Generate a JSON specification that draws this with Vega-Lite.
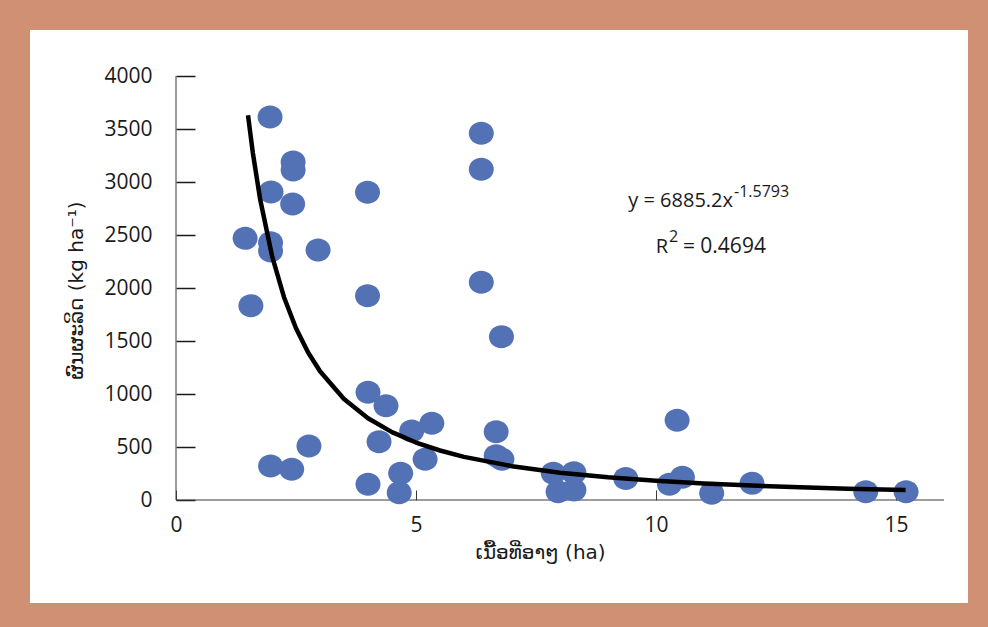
{
  "$schema": "https://vega.github.io/schema/vega-lite/v6.json",
  "width": 938,
  "height": 573,
  "autosize": {"type": "none"},
  "padding": {"left": 30, "top": 30, "right": 20, "bottom": 24},
  "background": "#CF9073",
  "config": {
    "view": {"fill": "#FFFFFF", "stroke": null},
    "font": "Open Sans"
  },
  "datasets": {
    "pts": [
      {"x": 1.96, "y": 3613}, {"x": 2.44, "y": 3189}, {"x": 2.44, "y": 3113},
      {"x": 1.98, "y": 2906}, {"x": 2.43, "y": 2792}, {"x": 1.44, "y": 2469},
      {"x": 1.97, "y": 2427}, {"x": 1.97, "y": 2349}, {"x": 2.96, "y": 2358},
      {"x": 3.99, "y": 2903}, {"x": 1.56, "y": 1833}, {"x": 3.99, "y": 1927},
      {"x": 6.36, "y": 3459}, {"x": 6.36, "y": 3120}, {"x": 6.36, "y": 2054},
      {"x": 6.78, "y": 1541}, {"x": 4.0, "y": 1016}, {"x": 4.375, "y": 890},
      {"x": 5.33, "y": 723}, {"x": 4.91, "y": 651}, {"x": 4.23, "y": 550},
      {"x": 6.67, "y": 645}, {"x": 6.67, "y": 418}, {"x": 6.79, "y": 384},
      {"x": 5.19, "y": 384}, {"x": 4.68, "y": 252}, {"x": 4.0, "y": 148},
      {"x": 4.65, "y": 69}, {"x": 1.97, "y": 321}, {"x": 2.41, "y": 290},
      {"x": 2.77, "y": 509}, {"x": 10.44, "y": 752}, {"x": 7.86, "y": 252},
      {"x": 8.29, "y": 258}, {"x": 7.96, "y": 79}, {"x": 8.29, "y": 94},
      {"x": 9.37, "y": 204}, {"x": 10.28, "y": 148}, {"x": 10.55, "y": 214},
      {"x": 11.16, "y": 63}, {"x": 12.0, "y": 157}, {"x": 14.37, "y": 79},
      {"x": 15.21, "y": 79}
    ],
    "trend": [
      {"x": 1.5, "y": 3629}, {"x": 1.6, "y": 3278}, {"x": 1.75, "y": 2845},
      {"x": 2.0, "y": 2304}, {"x": 2.25, "y": 1913}, {"x": 2.5, "y": 1620},
      {"x": 2.75, "y": 1394}, {"x": 3.0, "y": 1214}, {"x": 3.5, "y": 952},
      {"x": 4.0, "y": 771}, {"x": 4.5, "y": 640}, {"x": 5.0, "y": 542},
      {"x": 5.5, "y": 467}, {"x": 6.0, "y": 407}, {"x": 7.0, "y": 319},
      {"x": 8.0, "y": 258}, {"x": 9.0, "y": 214}, {"x": 10.0, "y": 181},
      {"x": 11.0, "y": 156}, {"x": 12.0, "y": 136}, {"x": 13.0, "y": 120},
      {"x": 14.0, "y": 107}, {"x": 15.2, "y": 94}
    ],
    "axislines": [
      {"x": 0, "x2": 16, "y": 0, "y2": 0},
      {"x": 0, "x2": 0, "y": 0, "y2": 4000}
    ],
    "eq": [
      {"x": 11.604, "y": 2764, "t": "y = 6885.2x", "part": "main"},
      {"x": 10.25, "y": 2330, "t": "R", "part": "main"},
      {"x": 11.625, "y": 2856, "t": "-1.5793", "part": "sup"},
      {"x": 10.27, "y": 2430, "t": "2", "part": "sup"},
      {"x": 10.56, "y": 2330, "t": "= 0.4694", "part": "rest"}
    ]
  },
  "encoding": {
    "x": {
      "field": "x", "type": "quantitative",
      "scale": {"domain": [-3.0417, 16.5], "nice": false, "zero": false},
      "axis": {
        "orient": "bottom", "offset": -103, "values": [0, 5, 10, 15], "format": "d", "domain": false, "grid": false,
        "tickSize": -10, "tickColor": "#3a3a3a", "labelPadding": 24,
        "labelFont": "Open Sans", "labelFontSize": 21, "labelColor": "#1a1a1a",
        "title": "ເນື້ອທີ່ອາໆ (ha)", "titleFont": "DejaVu Sans", "titleFontSize": 20, "titleFontWeight": "normal",
        "titleColor": "#1a1a1a", "titleX": 510, "titleY": 52, "titleAlign": "center", "titleBaseline": "middle"
      }
    },
    "y": {
      "field": "y", "type": "quantitative",
      "scale": {"domain": [-971.7, 4434], "nice": false, "zero": false},
      "axis": {
        "orient": "left", "offset": -146, "values": [0, 500, 1000, 1500, 2000, 2500, 3000, 3500, 4000], "format": "d",
        "domain": false, "grid": false, "tickSize": -19, "tickColor": "#1a1a1a", "tickWidth": 1.5, "labelPadding": 43,
        "labelFont": "Open Sans", "labelFontSize": 21, "labelColor": "#1a1a1a",
        "title": "ຜົນຜະລິດ (kg ha⁻¹)", "titleFont": "DejaVu Sans", "titleFontSize": 20, "titleFontWeight": "normal",
        "titleColor": "#1a1a1a", "titleX": -100, "titleY": 260, "titleAngle": -90, "titleAlign": "center", "titleBaseline": "middle"
      }
    }
  },
  "layer": [
    {
      "data": {"name": "axislines"},
      "mark": {"type": "rule", "color": "#3a3a3a", "strokeWidth": 1},
      "encoding": {
        "x2": {"field": "x2"},
        "y2": {"field": "y2"}
      }
    },
    {
      "data": {"name": "pts"},
      "mark": {"type": "point", "filled": true, "opacity": 1, "color": "#5272B5", "shape": "M-1,0A1,0.92,0,1,0,1,0A1,0.92,0,1,0,-1,0Z", "size": 625}
    },
    {
      "data": {"name": "trend"},
      "mark": {"type": "line", "color": "#000000", "strokeWidth": 4.5, "strokeJoin": "round"}
    },
    {
      "data": {"name": "eq"},
      "transform": [{"filter": "datum.part == 'main'"}],
      "mark": {"type": "text", "align": "right", "baseline": "alphabetic", "fontSize": 20, "font": "Open Sans", "color": "#1a1a1a"},
      "encoding": {"text": {"field": "t"}}
    },
    {
      "data": {"name": "eq"},
      "transform": [{"filter": "datum.part == 'sup'"}],
      "mark": {"type": "text", "align": "left", "baseline": "alphabetic", "fontSize": 16, "font": "Open Sans", "color": "#1a1a1a"},
      "encoding": {"text": {"field": "t"}}
    },
    {
      "data": {"name": "eq"},
      "transform": [{"filter": "datum.part == 'rest'"}],
      "mark": {"type": "text", "align": "left", "baseline": "alphabetic", "fontSize": 21, "font": "Open Sans", "color": "#1a1a1a"},
      "encoding": {"text": {"field": "t"}}
    }
  ]
}
